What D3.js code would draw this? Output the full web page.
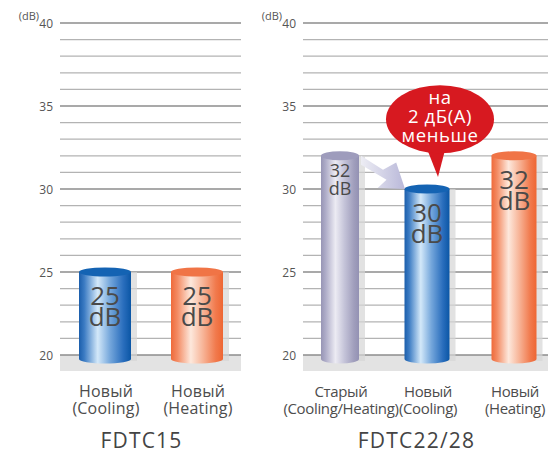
<!DOCTYPE html>
<html>
<head>
<meta charset="utf-8">
<script src="https://cdn.jsdelivr.net/npm/d3@7"></script>
<style>
  html, body { margin: 0; padding: 0; background: #fff; }
  svg { display: block; font-family: "Open Sans", sans-serif; }
</style>
</head>
<body>
<svg id="chart" width="551" height="454"></svg>
<script>
// ---- data ----
const yTicks = [20, 25, 30, 35, 40];
const yDomain = [20, 40];
const unitLabel = "(dB)";

const leftTitle = "FDTC15";
const leftCategories = [["Новый", "(Cooling)"], ["Новый", "(Heating)"]];
const leftValues = [25, 25];
const leftTypes = ["cool", "heat"];

const rightTitle = "FDTC22/28";
const rightCategories = [["Старый", "(Cooling/Heating)"], ["Новый", "(Cooling)"], ["Новый", "(Heating)"]];
const rightValues = [32, 30, 32];
const rightTypes = ["old", "cool", "heat"];

const calloutLines = ["на", "2 дБ(А)", "меньше"];
const valueUnit = "dB";

// ---- layout ----
const svg = d3.select("#chart");
const y = d3.scaleLinear().domain(yDomain).range([355, 23]);

const defs = svg.append("defs");
function grad(id, stops) {
  const g = defs.append("linearGradient").attr("id", id)
    .attr("x1", "0%").attr("x2", "100%").attr("y1", "0%").attr("y2", "0%");
  stops.forEach(s => g.append("stop").attr("offset", s[0]).attr("stop-color", s[1]));
}
grad("g-cool", [["0%", "#1b5eab"], ["10%", "#3b7bc3"], ["36%", "#d3e8f9"], ["60%", "#74a6db"], ["85%", "#2a6ebd"], ["100%", "#0b56a5"]]);
grad("g-heat", [["0%", "#ef6a3a"], ["12%", "#f38a62"], ["38%", "#fde8dc"], ["62%", "#f7b396"], ["86%", "#f17a4d"], ["100%", "#ee6633"]]);
grad("g-old", [["0%", "#9795b5"], ["12%", "#aeacc8"], ["38%", "#ecebf3"], ["62%", "#c4c3d8"], ["86%", "#a19fbd"], ["100%", "#9391b3"]]);
grad("g-arrow", [["0%", "#ededf4"], ["100%", "#b9b8d9"]]);

const typeStyle = {
  cool: { fill: "url(#g-cool)", top: "#1463b3" },
  heat: { fill: "url(#g-heat)", top: "#f07446" },
  old:  { fill: "url(#g-old)",  top: "#9e9cbc" }
};

function panel(cfg) {
  const g = svg.append("g");
  const [x0, x1] = cfg.range;
  // bottom band
  g.append("rect").attr("x", x0).attr("y", y(yDomain[0])).attr("width", x1 - x0)
    .attr("height", 16).attr("fill", "#e3e3e3");
  // grid lines
  const minor = d3.range(yDomain[0], yDomain[1] + 1, 1);
  g.selectAll("line.grid").data(minor).join("line")
    .attr("x1", x0).attr("x2", x1)
    .attr("y1", d => y(d)).attr("y2", d => y(d))
    .attr("stroke", d => yTicks.includes(d) ? "#8c8c8c" : "#b3b3b3")
    .attr("stroke-width", 1.3);
  // tick labels
  g.selectAll("text.tick").data(yTicks).join("text")
    .attr("x", x0 - 7).attr("y", d => y(d) + 5)
    .attr("text-anchor", "end").attr("font-size", 12).attr("fill", "#555")
    .text(d => d);
  g.append("text").attr("x", x0 - 21).attr("y", y(yDomain[1]) - 3)
    .attr("text-anchor", "end").attr("font-size", 11).attr("fill", "#555")
    .text(unitLabel);

  const xs = d3.scalePoint().domain(d3.range(cfg.values.length)).range(cfg.points);
  const bars = g.selectAll("g.bar").data(cfg.values).join("g");
  bars.each(function (v, i) {
    const sel = d3.select(this);
    const cx = xs(i);
    const w = cfg.widths[cfg.types[i]];
    const rx = w / 2, ry = 4.5;
    const yt = y(v), yb = y(yDomain[0]) + 4;
    const st = typeStyle[cfg.types[i]];
    sel.append("rect").attr("x", cx - rx + 6).attr("y", yt)
      .attr("width", w).attr("height", yb - yt + 2)
      .attr("fill", "#d6d6d6").attr("opacity", 0.7);
    sel.append("path")
      .attr("d", `M${cx - rx},${yt} V${yb} A${rx},${ry} 0 0 0 ${cx + rx},${yb} V${yt} Z`)
      .attr("fill", st.fill);
    sel.append("ellipse").attr("cx", cx).attr("cy", yt).attr("rx", rx).attr("ry", ry)
      .attr("fill", st.top);
    const small = cfg.types[i] === "old";
    const fs = small ? 18 : 26;
    const off1 = small ? 21 : 33;
    const gap = small ? 18 : 21;
    const t = sel.append("text").attr("text-anchor", "middle")
      .attr("font-size", fs).attr("fill", "#4a4a4a");
    t.append("tspan").attr("x", cx).attr("y", yt + off1).text(v);
    t.append("tspan").attr("x", cx).attr("dy", gap).text(valueUnit);
  });
  // category labels
  cfg.categories.forEach((lines, i) => {
    const t = g.append("text").attr("text-anchor", "middle")
      .attr("font-size", cfg.labelSize).attr("letter-spacing", cfg.labelSpacing)
      .attr("fill", "#4d4d4d");
    lines.forEach((ln, j) => {
      t.append("tspan").attr("x", xs(i) + 1).attr("y", 397 + j * 17).text(ln);
    });
  });
  // title
  g.append("text").attr("x", (x0 + x1) / 2 - 9).attr("y", 448)
    .attr("text-anchor", "middle").attr("font-size", 21).attr("letter-spacing", 1.2)
    .attr("fill", "#444")
    .text(cfg.title);
  return { xs, g };
}

panel({
  range: [60, 241], points: [105, 197], values: leftValues, types: leftTypes,
  categories: leftCategories, title: leftTitle, widths: { cool: 52, heat: 52 },
  labelSize: 16, labelSpacing: 0.2
});
const right = panel({
  range: [303, 548], points: [340, 514], values: rightValues, types: rightTypes,
  categories: rightCategories, title: rightTitle, widths: { old: 38, cool: 45, heat: 45 },
  labelSize: 15, labelSpacing: -0.35
});

// arrow from old to new
const ag = svg.append("g");
const xOld = right.xs(0), xNew = right.xs(1);
const aStart = [xOld + 21, y(rightValues[0])];
const aTip = [xNew - 22, y(rightValues[1])];
const dx = aTip[0] - aStart[0], dy = aTip[1] - aStart[1];
ag.append("path")
  .attr("d", d3.line()([
    [aStart[0], aStart[1]],
    [aStart[0] + dx * 0.5, aStart[1] + dy * 0.42],
    [aStart[0] + dx * 0.8, aStart[1] + dy * 0.2],
    aTip,
    [aStart[0] + dx * 0.38, aStart[1] + dy * 0.97],
    [aStart[0] + dx * 0.58, aStart[1] + dy * 0.72],
    [aStart[0], aStart[1] + 9]
  ]) + "Z")
  .attr("fill", "url(#g-arrow)");

// callout
const cg = svg.append("g");
const ccx = xNew + 13, ccy = y(34.2);
cg.append("path")
  .attr("d", `M${ccx - 14},${ccy + 27} L${ccx + 6},${ccy + 27} L${ccx - 2},${y(rightValues[1]) - 12} Z`)
  .attr("fill", "#d71920");
cg.append("ellipse").attr("cx", ccx).attr("cy", ccy).attr("rx", 54).attr("ry", 34)
  .attr("fill", "#d71920");
calloutLines.forEach((ln, j) => {
  cg.append("text").attr("x", ccx).attr("y", ccy - 15 + j * 19)
    .attr("text-anchor", "middle").attr("font-size", 18.5).attr("letter-spacing", 0.6)
    .attr("fill", "#fff").text(ln);
});
</script>
</body>
</html>
